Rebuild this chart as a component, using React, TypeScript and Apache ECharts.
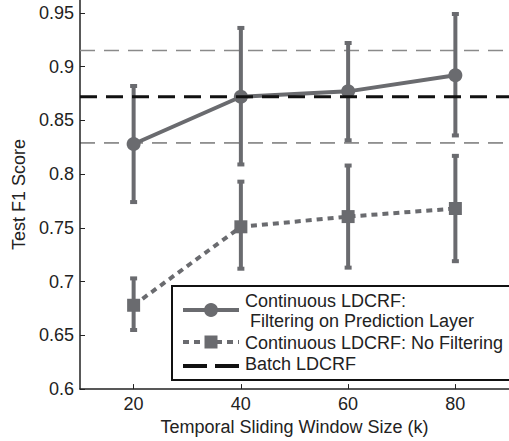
import React, { useEffect, useRef } from "react";
import * as echarts from "echarts";

const windowSizes = [20, 40, 60, 80];
const filteredMean = [0.828, 0.872, 0.877, 0.892];
const filteredLow = [0.774, 0.809, 0.8315, 0.836];
const filteredHigh = [0.882, 0.936, 0.922, 0.949];
const noFilterMean = [0.678, 0.751, 0.7605, 0.768];
const noFilterLow = [0.655, 0.712, 0.713, 0.719];
const noFilterHigh = [0.703, 0.793, 0.808, 0.817];
const batchMean = 0.872;
const batchLow = 0.829;
const batchHigh = 0.915;
const yTicks = [0.6, 0.65, 0.7, 0.75, 0.8, 0.85, 0.9, 0.95];
const xTicks = [20, 40, 60, 80];
const xRange = [10, 90];

const GRAY = "#6a6b6f";
const FONT = "Liberation Sans";

function errorBarSeries(low: number[], high: number[]) {
  return {
    type: "custom",
    z: 2,
    silent: true,
    data: windowSizes.map((x, i) => [x, low[i], high[i]]),
    encode: { x: 0, y: [1, 2] },
    renderItem: (params: any, api: any) => {
      const x = api.value(0);
      const lo = api.coord([x, api.value(1)]);
      const hi = api.coord([x, api.value(2)]);
      const st = { stroke: GRAY, lineWidth: 4 };
      return {
        type: "group",
        children: [
          { type: "line", shape: { x1: lo[0], y1: lo[1], x2: hi[0], y2: hi[1] }, style: st },
          { type: "line", shape: { x1: lo[0] - 3.5, y1: lo[1], x2: lo[0] + 3.5, y2: lo[1] }, style: st },
          { type: "line", shape: { x1: hi[0] - 3.5, y1: hi[1], x2: hi[0] + 3.5, y2: hi[1] }, style: st },
        ],
      };
    },
  };
}

function hLine(v: number, color: string, width: number, dash: number[], z: number) {
  return {
    type: "line",
    z,
    silent: true,
    symbol: "none",
    data: [[xRange[0], v], [xRange[1], v]],
    lineStyle: { color, width, type: dash },
  };
}

export default function App() {
  const ref = useRef<HTMLDivElement>(null);
  useEffect(() => {
    const chart = echarts.init(ref.current!, null, { renderer: "svg" });
    const textStyle = { fontFamily: FONT, fontSize: 18, color: "#222" };
    chart.setOption({
      animation: false,
      backgroundColor: "#fff",
      grid: { left: 80, right: -11, top: 0, bottom: 51 },
      xAxis: {
        type: "value",
        min: xRange[0],
        max: xRange[1],
        name: "Temporal Sliding Window Size (k)",
        nameLocation: "middle",
        nameGap: 25,
        nameTextStyle: textStyle,
        axisLine: { lineStyle: { color: "#222", width: 1.5 } },
        axisTick: { inside: true, length: 5, customValues: xTicks, lineStyle: { color: "#222" } },
        axisLabel: { ...textStyle, margin: 6, customValues: xTicks },
        splitLine: { show: false },
      },
      yAxis: {
        type: "value",
        min: 0.6,
        max: 0.962,
        name: "Test F1 Score",
        nameLocation: "middle",
        nameGap: 50,
        nameTextStyle: textStyle,
        axisLine: { show: true, lineStyle: { color: "#222", width: 1.5 } },
        axisTick: { show: true, inside: true, length: 5, customValues: yTicks, lineStyle: { color: "#222" } },
        axisLabel: { ...textStyle, margin: 6, customValues: yTicks, formatter: (v: number) => String(+v.toFixed(2)) },
        splitLine: { show: false },
      },
      series: [
        hLine(batchHigh, "#8a8a8a", 1.5, [15, 9], 1),
        hLine(batchLow, "#333", 1, [15, 9], 1),
        errorBarSeries(filteredLow, filteredHigh),
        errorBarSeries(noFilterLow, noFilterHigh),
        {
          type: "line",
          name: "Continuous LDCRF: Filtering on Prediction Layer",
          z: 3,
          data: windowSizes.map((x, i) => [x, filteredMean[i]]),
          symbol: "circle",
          symbolSize: 14,
          itemStyle: { color: GRAY },
          lineStyle: { color: GRAY, width: 4 },
        },
        {
          type: "line",
          name: "Continuous LDCRF: No Filtering",
          z: 3,
          data: windowSizes.map((x, i) => [x, noFilterMean[i]]),
          symbol: "rect",
          symbolSize: 13,
          itemStyle: { color: GRAY },
          lineStyle: { color: GRAY, width: 4, type: [6, 5] },
        },
        hLine(batchMean, "#111", 3, [17, 9], 4),
      ],
      graphic: [
        {
          type: "group",
          z: 100,
          children: [
            { type: "rect", shape: { x: 172, y: 286, width: 345, height: 94 }, style: { fill: "#fff", stroke: "#111", lineWidth: 2 } },
            { type: "line", shape: { x1: 183, y1: 310, x2: 239, y2: 310 }, style: { stroke: GRAY, lineWidth: 4 } },
            { type: "circle", shape: { cx: 211, cy: 310, r: 7 }, style: { fill: GRAY } },
            { type: "line", shape: { x1: 183, y1: 342, x2: 239, y2: 342 }, style: { stroke: GRAY, lineWidth: 4, lineDash: [6, 5] } },
            { type: "rect", shape: { x: 204.5, y: 335.5, width: 13, height: 13 }, style: { fill: GRAY } },
            { type: "line", shape: { x1: 183, y1: 366, x2: 239, y2: 366 }, style: { stroke: "#111", lineWidth: 4, lineDash: [24, 8] } },
            { type: "text", x: 245, y: 301, style: { text: "Continuous LDCRF:", fill: "#222", font: `18px '${FONT}'`, verticalAlign: "middle" } },
            { type: "text", x: 245, y: 321, style: { text: " Filtering on Prediction Layer", fill: "#222", font: `18px '${FONT}'`, verticalAlign: "middle" } },
            { type: "text", x: 245, y: 343, style: { text: "Continuous LDCRF: No Filtering", fill: "#222", font: `18px '${FONT}'`, verticalAlign: "middle" } },
            { type: "text", x: 245, y: 364, style: { text: "Batch LDCRF", fill: "#222", font: `18px '${FONT}'`, verticalAlign: "middle" } },
          ],
        },
      ],
    });
    return () => chart.dispose();
  }, []);
  return (
    <div
      ref={ref}
      style={{ position: "absolute", left: 0, top: 0, width: 509, height: 441, background: "#fff" }}
    />
  );
}
